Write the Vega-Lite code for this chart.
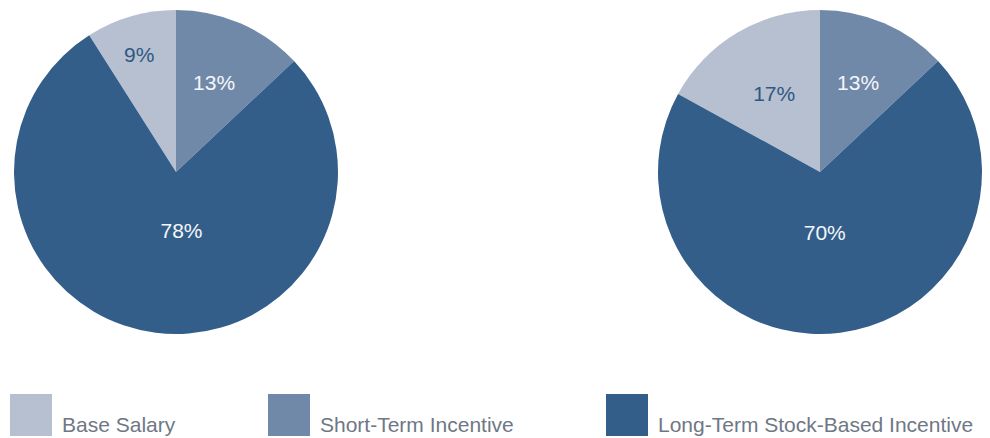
{
  "$schema": "https://vega.github.io/schema/vega-lite/v6.json",
  "background": "#ffffff",
  "padding": {"left": 10, "top": 10, "right": 8, "bottom": 0},
  "spacing": 316,
  "config": {"view": {"stroke": null}},
  "data": {
    "values": [
      {"pie": "A", "cat": "Base Salary", "value": 0.09},
      {"pie": "A", "cat": "Short-Term Incentive", "value": 0.13},
      {"pie": "A", "cat": "Long-Term Stock-Based Incentive", "value": 0.78},
      {"pie": "B", "cat": "Base Salary", "value": 0.17},
      {"pie": "B", "cat": "Short-Term Incentive", "value": 0.13},
      {"pie": "B", "cat": "Long-Term Stock-Based Incentive", "value": 0.70}
    ]
  },
  "hconcat": [
    {
      "width": 332,
      "height": 324,
      "transform": [{"filter": "datum.pie === 'A'"}],
      "encoding": {
        "theta": {"field": "value", "type": "quantitative", "stack": true},
        "order": {"field": "cat", "type": "ordinal", "sort": "descending"},
        "detail": {"field": "cat", "type": "nominal"}
      },
      "layer": [
        {
          "mark": {"type": "arc", "outerRadius": 162},
          "encoding": {
            "color": {
              "field": "cat",
              "type": "nominal",
              "scale": {
                "domain": ["Base Salary", "Short-Term Incentive", "Long-Term Stock-Based Incentive"],
                "range": ["#b6c0d1", "#7189a9", "#335e8a"]
              },
              "legend": {
                "orient": "none",
                "legendX": 0,
                "legendY": 384,
                "direction": "horizontal",
                "title": null,
                "symbolType": "square",
                "symbolSize": 1764,
                "symbolStrokeWidth": 0,
                "symbolOpacity": 1,
                "labelFont": "Liberation Sans",
                "labelFontSize": 21,
                "labelColor": "#6f7785",
                "labelBaseline": "top",
                "labelOffset": 10,
                "labelLimit": 500,
                "columnPadding": 92,
                "padding": 0
              }
            }
          }
        },
        {
          "mark": {"type": "text", "radius": 121, "dx": -3, "color": "#2e5782", "font": "Liberation Sans", "fontSize": 21, "align": "center", "baseline": "middle"},
          "encoding": {"text": {"condition": {"test": "datum.cat === 'Base Salary'", "field": "value", "format": ".0%"}, "value": ""}}
        },
        {
          "mark": {"type": "text", "radius": 96, "color": "#f4f6fa", "font": "Liberation Sans", "fontSize": 21, "align": "center", "baseline": "middle"},
          "encoding": {"text": {"condition": {"test": "datum.cat === 'Short-Term Incentive'", "field": "value", "format": ".0%"}, "value": ""}}
        },
        {
          "mark": {"type": "text", "radius": 60, "dx": 13, "color": "#f4f6fa", "font": "Liberation Sans", "fontSize": 21, "align": "center", "baseline": "middle"},
          "encoding": {"text": {"condition": {"test": "datum.cat === 'Long-Term Stock-Based Incentive'", "field": "value", "format": ".0%"}, "value": ""}}
        }
      ]
    },
    {
      "width": 324,
      "height": 324,
      "transform": [{"filter": "datum.pie === 'B'"}],
      "encoding": {
        "theta": {"field": "value", "type": "quantitative", "stack": true},
        "order": {"field": "cat", "type": "ordinal", "sort": "descending"},
        "detail": {"field": "cat", "type": "nominal"}
      },
      "layer": [
        {
          "mark": {"type": "arc", "outerRadius": 162},
          "encoding": {
            "color": {"field": "cat", "type": "nominal"}
          }
        },
        {
          "mark": {"type": "text", "radius": 90, "color": "#2e5782", "font": "Liberation Sans", "fontSize": 21, "align": "center", "baseline": "middle"},
          "encoding": {"text": {"condition": {"test": "datum.cat === 'Base Salary'", "field": "value", "format": ".0%"}, "value": ""}}
        },
        {
          "mark": {"type": "text", "radius": 96, "color": "#f4f6fa", "font": "Liberation Sans", "fontSize": 21, "align": "center", "baseline": "middle"},
          "encoding": {"text": {"condition": {"test": "datum.cat === 'Short-Term Incentive'", "field": "value", "format": ".0%"}, "value": ""}}
        },
        {
          "mark": {"type": "text", "radius": 62, "dx": -3, "color": "#f4f6fa", "font": "Liberation Sans", "fontSize": 21, "align": "center", "baseline": "middle"},
          "encoding": {"text": {"condition": {"test": "datum.cat === 'Long-Term Stock-Based Incentive'", "field": "value", "format": ".0%"}, "value": ""}}
        }
      ]
    }
  ]
}
